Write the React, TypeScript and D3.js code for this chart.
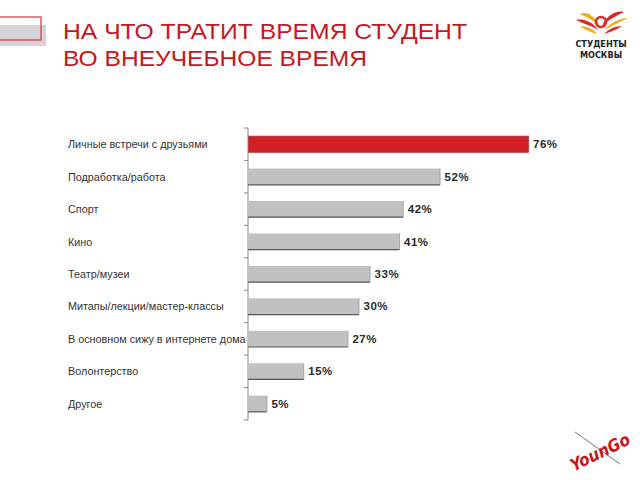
import React from "react";
import * as d3 from "d3";

const categories = [
  "Личные встречи с друзьями",
  "Подработка/работа",
  "Спорт",
  "Кино",
  "Театр/музеи",
  "Митапы/лекции/мастер-классы",
  "В основном сижу в интернете дома",
  "Волонтерство",
  "Другое",
];
const values = [76, 52, 42, 41, 33, 30, 27, 15, 5];
const titleLines = ["НА ЧТО ТРАТИТ ВРЕМЯ СТУДЕНТ", "ВО ВНЕУЧЕБНОЕ ВРЕМЯ"];
const titleWidths = [404, 304];

export default function App() {
  const W = 640;
  const H = 480;
  const axisX = 248;
  const top = 128;
  const bottom = 420;
  const x = d3.scaleLinear().domain([0, 76]).range([axisX, 528]);
  const y = d3.scaleBand<string>().domain(categories).range([top, bottom]).paddingInner(0.5).paddingOuter(0.25);
  const tickYs = d3.range(categories.length + 1).map((i) => top + i * ((bottom - top) / categories.length));

  return (
    <svg width={W} height={H} style={{ position: "absolute", left: 0, top: 0, background: "#fff" }} fontFamily="'Liberation Sans', Arial, sans-serif">
      <rect x={0} y={0} width={W} height={H} fill="#fff" />
      {/* top-left decoration */}
      <rect x={0} y={25} width={46} height={21} fill="#d4d4d4" />
      <rect x={-1} y={17} width={42} height={23} fill="none" stroke="#d0343a" strokeWidth={1.2} />
      {/* title */}
      {titleLines.map((t, i) => (
        <text key={i} x={63} y={38.5 + i * 27.5} fontSize={22.5} fill="#c8161d" textLength={titleWidths[i]} lengthAdjust="spacingAndGlyphs">
          {t}
        </text>
      ))}
      {/* top-right logo */}
      <g>
        <path d="M580,14 C588,10 596,18 600,26 C596,22 588,18 580,14 Z" fill="#e8b020" />
        <path d="M576,20 C586,18 594,24 598,30 C592,26 584,24 576,20 Z" fill="#d92a2a" />
        <path d="M580,26 C588,26 594,30 597,34 C590,32 585,30 580,26 Z" fill="#e8b020" />
        <path d="M624,12 C616,10 606,16 602,26 C608,20 616,16 624,12 Z" fill="#d92a2a" />
        <path d="M628,18 C618,18 610,24 604,30 C612,26 620,22 628,18 Z" fill="#e8b020" />
        <path d="M622,26 C614,26 608,30 604,34 C610,32 616,30 622,26 Z" fill="#d92a2a" />
        <circle cx={601} cy={22} r={5} fill="none" stroke="#d92a2a" strokeWidth={2.5} />
        <text x={601} y={47} fontSize={9} fontWeight="bold" textAnchor="middle" fill="#222" fontFamily="'DejaVu Sans Condensed', sans-serif">СТУДЕНТЫ</text>
        <text x={601} y={58} fontSize={9} fontWeight="bold" textAnchor="middle" fill="#222" fontFamily="'DejaVu Sans Condensed', sans-serif">МОСКВЫ</text>
      </g>
      {/* axis */}
      <line x1={axisX} x2={axisX} y1={top} y2={bottom} stroke="#888" strokeWidth={1} />
      {tickYs.map((ty, i) => (
        <line key={i} x1={axisX - 4} x2={axisX} y1={ty} y2={ty} stroke="#888" strokeWidth={1} />
      ))}
      {/* bars */}
      {categories.map((c, i) => {
        const by = y(c)!;
        const bh = y.bandwidth();
        const bw = x(values[i]) - x(0);
        const red = i === 0;
        return (
          <g key={c}>
            <rect x={x(0) + 0.5} y={by} width={bw} height={bh} fill={red ? "#d11f26" : "#c1c1c1"} stroke={red ? "#b0383c" : "none"} strokeWidth={0.8} />
            {!red && <line x1={x(0)} x2={x(values[i]) + 0.5} y1={by + bh} y2={by + bh} stroke="#555" strokeWidth={1.2} />}
            {!red && <line x1={x(values[i]) + 0.5} x2={x(values[i]) + 0.5} y1={by} y2={by + bh} stroke="#9a9a9a" strokeWidth={0.8} />}
            <text x={x(values[i]) + 5} y={by + bh / 2 + 4} fontSize={11.5} fontWeight="bold" fill="#2a2a2a" letterSpacing={0.5}>
              {values[i]}%
            </text>
            <text x={68} y={by + bh / 2 + 4} fontSize={10.8} fill="#333">
              {c}
            </text>
          </g>
        );
      })}
      {/* YounGo logo */}
      <g>
        <line x1={575} y1={432} x2={620} y2={464} stroke="#777" strokeWidth={1} />
        <text x={600} y={458} fontSize={17} fontStyle="italic" fontWeight="bold" fill="#c8161d" textAnchor="middle" transform="rotate(-26 600 452)" fontFamily="'DejaVu Sans Condensed', sans-serif">YounGo</text>
      </g>
    </svg>
  );
}
